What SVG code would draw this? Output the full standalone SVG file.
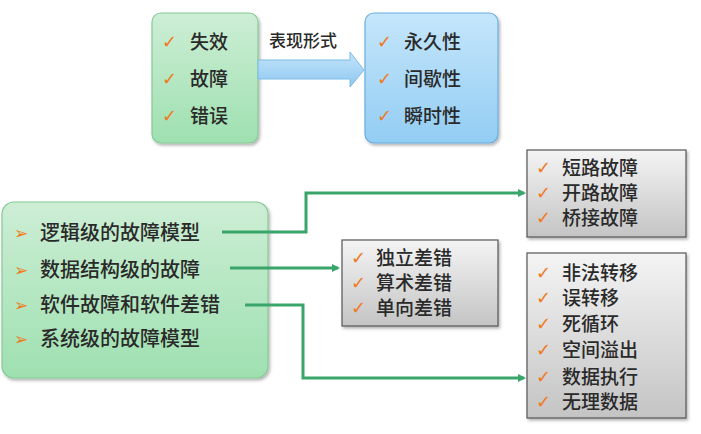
<svg xmlns="http://www.w3.org/2000/svg" width="701" height="434" viewBox="0 0 701 434">
<style>
.t{font-family:"Noto Sans CJK SC","Noto Sans",sans-serif;fill:#2a2a2a;font-size:19px;font-weight:500}
.g{font-size:19px}
.ck{font-family:"DejaVu Sans",sans-serif;fill:#f07a1c;font-size:18px;font-weight:bold}
.bl{font-family:"DejaVu Sans",sans-serif;fill:#f07a1c;font-size:17px}
.conn{fill:none;stroke:#3aa56a;stroke-width:3}
.gray{fill:url(#gg);stroke:#555;stroke-width:1.2;filter:url(#sh)}
</style>
<defs>
<linearGradient id="gg" x1="0" y1="0" x2="0" y2="1"><stop offset="0" stop-color="#f4f4f4"/><stop offset="1" stop-color="#c4c4c4"/></linearGradient>
<linearGradient id="grn" x1="0" y1="0" x2="0" y2="1"><stop offset="0" stop-color="#cdeed5"/><stop offset="1" stop-color="#9ee0b0"/></linearGradient>
<linearGradient id="blu" x1="0" y1="0" x2="0" y2="1"><stop offset="0" stop-color="#c5e6fb"/><stop offset="1" stop-color="#92cdf3"/></linearGradient>
<linearGradient id="arw" x1="0" y1="0" x2="0" y2="1"><stop offset="0" stop-color="#c4e4fb"/><stop offset="1" stop-color="#8ec8f0"/></linearGradient>
<filter id="sh" x="-10%" y="-10%" width="125%" height="130%"><feDropShadow dx="1.5" dy="2" stdDeviation="1.5" flood-color="#000" flood-opacity="0.3"/></filter>
<marker id="ah" markerWidth="8" markerHeight="8" refX="6" refY="4" orient="auto" markerUnits="userSpaceOnUse"><path d="M0,0 L8,4 L0,8 Z" fill="#3aa56a"/></marker>
</defs>

<g id="types">
<rect x="152" y="13" width="106" height="130" rx="9" fill="url(#grn)" stroke="#86c996" stroke-width="1.2" filter="url(#sh)"/>
<text class="ck" x="162" y="48">✓</text><text class="t" x="190" y="49">失效</text>
<text class="ck" x="162" y="85">✓</text><text class="t" x="190" y="86">故障</text>
<text class="ck" x="162" y="122">✓</text><text class="t" x="190" y="123">错误</text>
</g>

<g id="forms">
<rect x="365" y="13" width="133" height="130" rx="9" fill="url(#blu)" stroke="#6aaee0" stroke-width="1.2" filter="url(#sh)"/>
<text class="ck" x="377" y="48">✓</text><text class="t" x="404" y="49">永久性</text>
<text class="ck" x="377" y="85">✓</text><text class="t" x="404" y="86">间歇性</text>
<text class="ck" x="377" y="122">✓</text><text class="t" x="404" y="123">瞬时性</text>
</g>

<g id="form-arrow">
<path d="M258,60 L350,60 L350,52 L364,70 L350,87 L350,79 L258,79 Z" fill="url(#arw)" stroke="#7dbbe6" stroke-width="1"/>
<text class="t" x="269" y="47" style="font-size:17px">表现形式</text>
</g>

<g id="levels">
<rect x="2" y="202" width="266" height="176" rx="12" fill="url(#grn)" stroke="#86c996" stroke-width="1.2" filter="url(#sh)"/>
<text class="bl" x="14" y="239">➢</text><text class="t" x="40" y="240" style="font-size:20px">逻辑级的故障模型</text>
<text class="bl" x="14" y="276">➢</text><text class="t" x="40" y="277" style="font-size:20px">数据结构级的故障</text>
<text class="bl" x="14" y="311">➢</text><text class="t" x="40" y="312" style="font-size:20px">软件故障和软件差错</text>
<text class="bl" x="14" y="345">➢</text><text class="t" x="40" y="346" style="font-size:20px">系统级的故障模型</text>
</g>

<g id="logic-faults">
<rect class="gray" x="527" y="150" width="159" height="87"/>
<text class="ck" x="536" y="174">✓</text><text class="t g" x="562" y="175">短路故障</text>
<text class="ck" x="536" y="199">✓</text><text class="t g" x="562" y="200">开路故障</text>
<text class="ck" x="536" y="224">✓</text><text class="t g" x="562" y="225">桥接故障</text>
</g>

<g id="data-faults">
<rect class="gray" x="342" y="240" width="156" height="86"/>
<text class="ck" x="351" y="264">✓</text><text class="t g" x="376" y="265">独立差错</text>
<text class="ck" x="351" y="289">✓</text><text class="t g" x="376" y="290">算术差错</text>
<text class="ck" x="351" y="314">✓</text><text class="t g" x="376" y="315">单向差错</text>
</g>

<g id="software-faults">
<rect class="gray" x="527" y="253" width="159" height="165"/>
<text class="ck" x="536" y="279">✓</text><text class="t g" x="562" y="280">非法转移</text>
<text class="ck" x="536" y="304">✓</text><text class="t g" x="562" y="305">误转移</text>
<text class="ck" x="536" y="330">✓</text><text class="t g" x="562" y="331">死循环</text>
<text class="ck" x="536" y="356">✓</text><text class="t g" x="562" y="357">空间溢出</text>
<text class="ck" x="536" y="383">✓</text><text class="t g" x="562" y="384">数据执行</text>
<text class="ck" x="536" y="408">✓</text><text class="t g" x="562" y="409">无理数据</text>
</g>

<g id="connectors">
<path class="conn" d="M222,232 H306 V193 H524" marker-end="url(#ah)"/>
<path class="conn" d="M230,268 H338" marker-end="url(#ah)"/>
<path class="conn" d="M245,305 H303 V378 H524" marker-end="url(#ah)"/>
</g>
</svg>
